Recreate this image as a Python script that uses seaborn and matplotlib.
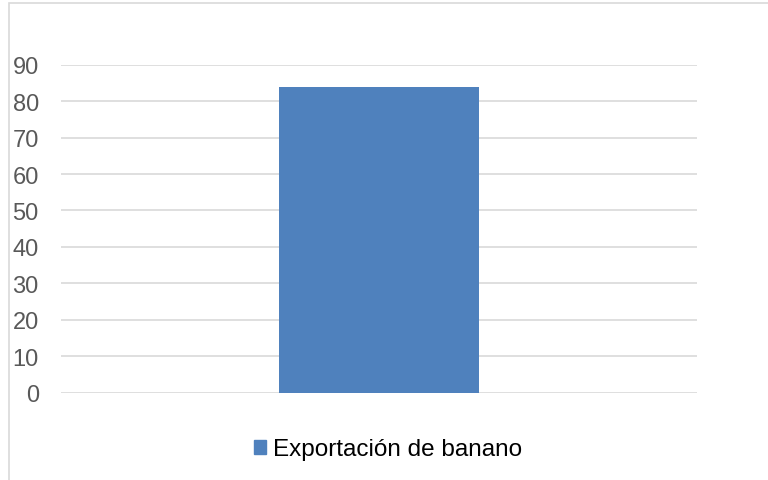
import pandas as pd
import matplotlib
matplotlib.use("Agg")
import matplotlib.pyplot as plt
import seaborn as sns
from matplotlib.patches import Rectangle

# data
categories = [""]
series_name = "Exportación de banano"
values = [84]
y_ticks = [0, 10, 20, 30, 40, 50, 60, 70, 80, 90]

df = pd.DataFrame({"cat": categories, "val": values, "serie": [series_name]})

sns.set_theme(style="white")
plt.rcParams['font.family'] = ['Liberation Sans', 'DejaVu Sans']

fig = plt.figure(figsize=(7.68, 4.81), dpi=100)
ax = fig.add_axes([0.0794, 0.1815, 0.8282, 0.682])

sns.barplot(data=df, x="cat", y="val", hue="serie", palette=["#4f81bd"],
            width=0.314, dodge=False, legend=False, ax=ax, saturation=1,
            linewidth=0)

ax.set_ylim(0, 90)
ax.set_xlim(-0.5, 0.5)
ax.set_yticks(y_ticks)
ax.set_yticklabels([str(t) for t in y_ticks], fontsize=17, color="#595959")
ax.set_xticks([])
ax.set_xlabel("")
ax.set_ylabel("")
ax.tick_params(axis="y", length=0, pad=16)
ax.yaxis.grid(True, color="#d9d9d9", linewidth=1.2)
ax.set_axisbelow(True)
for s in ax.spines.values():
    s.set_visible(False)

# chart area outline
fig.patches.append(Rectangle((9 / 768, -0.1), 1.2, 1 - 4 / 481 + 0.1,
                             transform=fig.transFigure, fill=False,
                             edgecolor="#d9d9d9", linewidth=1.2))

handle = Rectangle((0, 0), 1, 1, color="#4f81bd")
fig.legend([handle], [series_name], loc="center", bbox_to_anchor=(0.505, 0.064),
           frameon=False, fontsize=17.5, handlelength=0.5, handleheight=0.5,
           handletextpad=0.3, labelcolor="black")

fig.savefig("out.png", dpi=100)
